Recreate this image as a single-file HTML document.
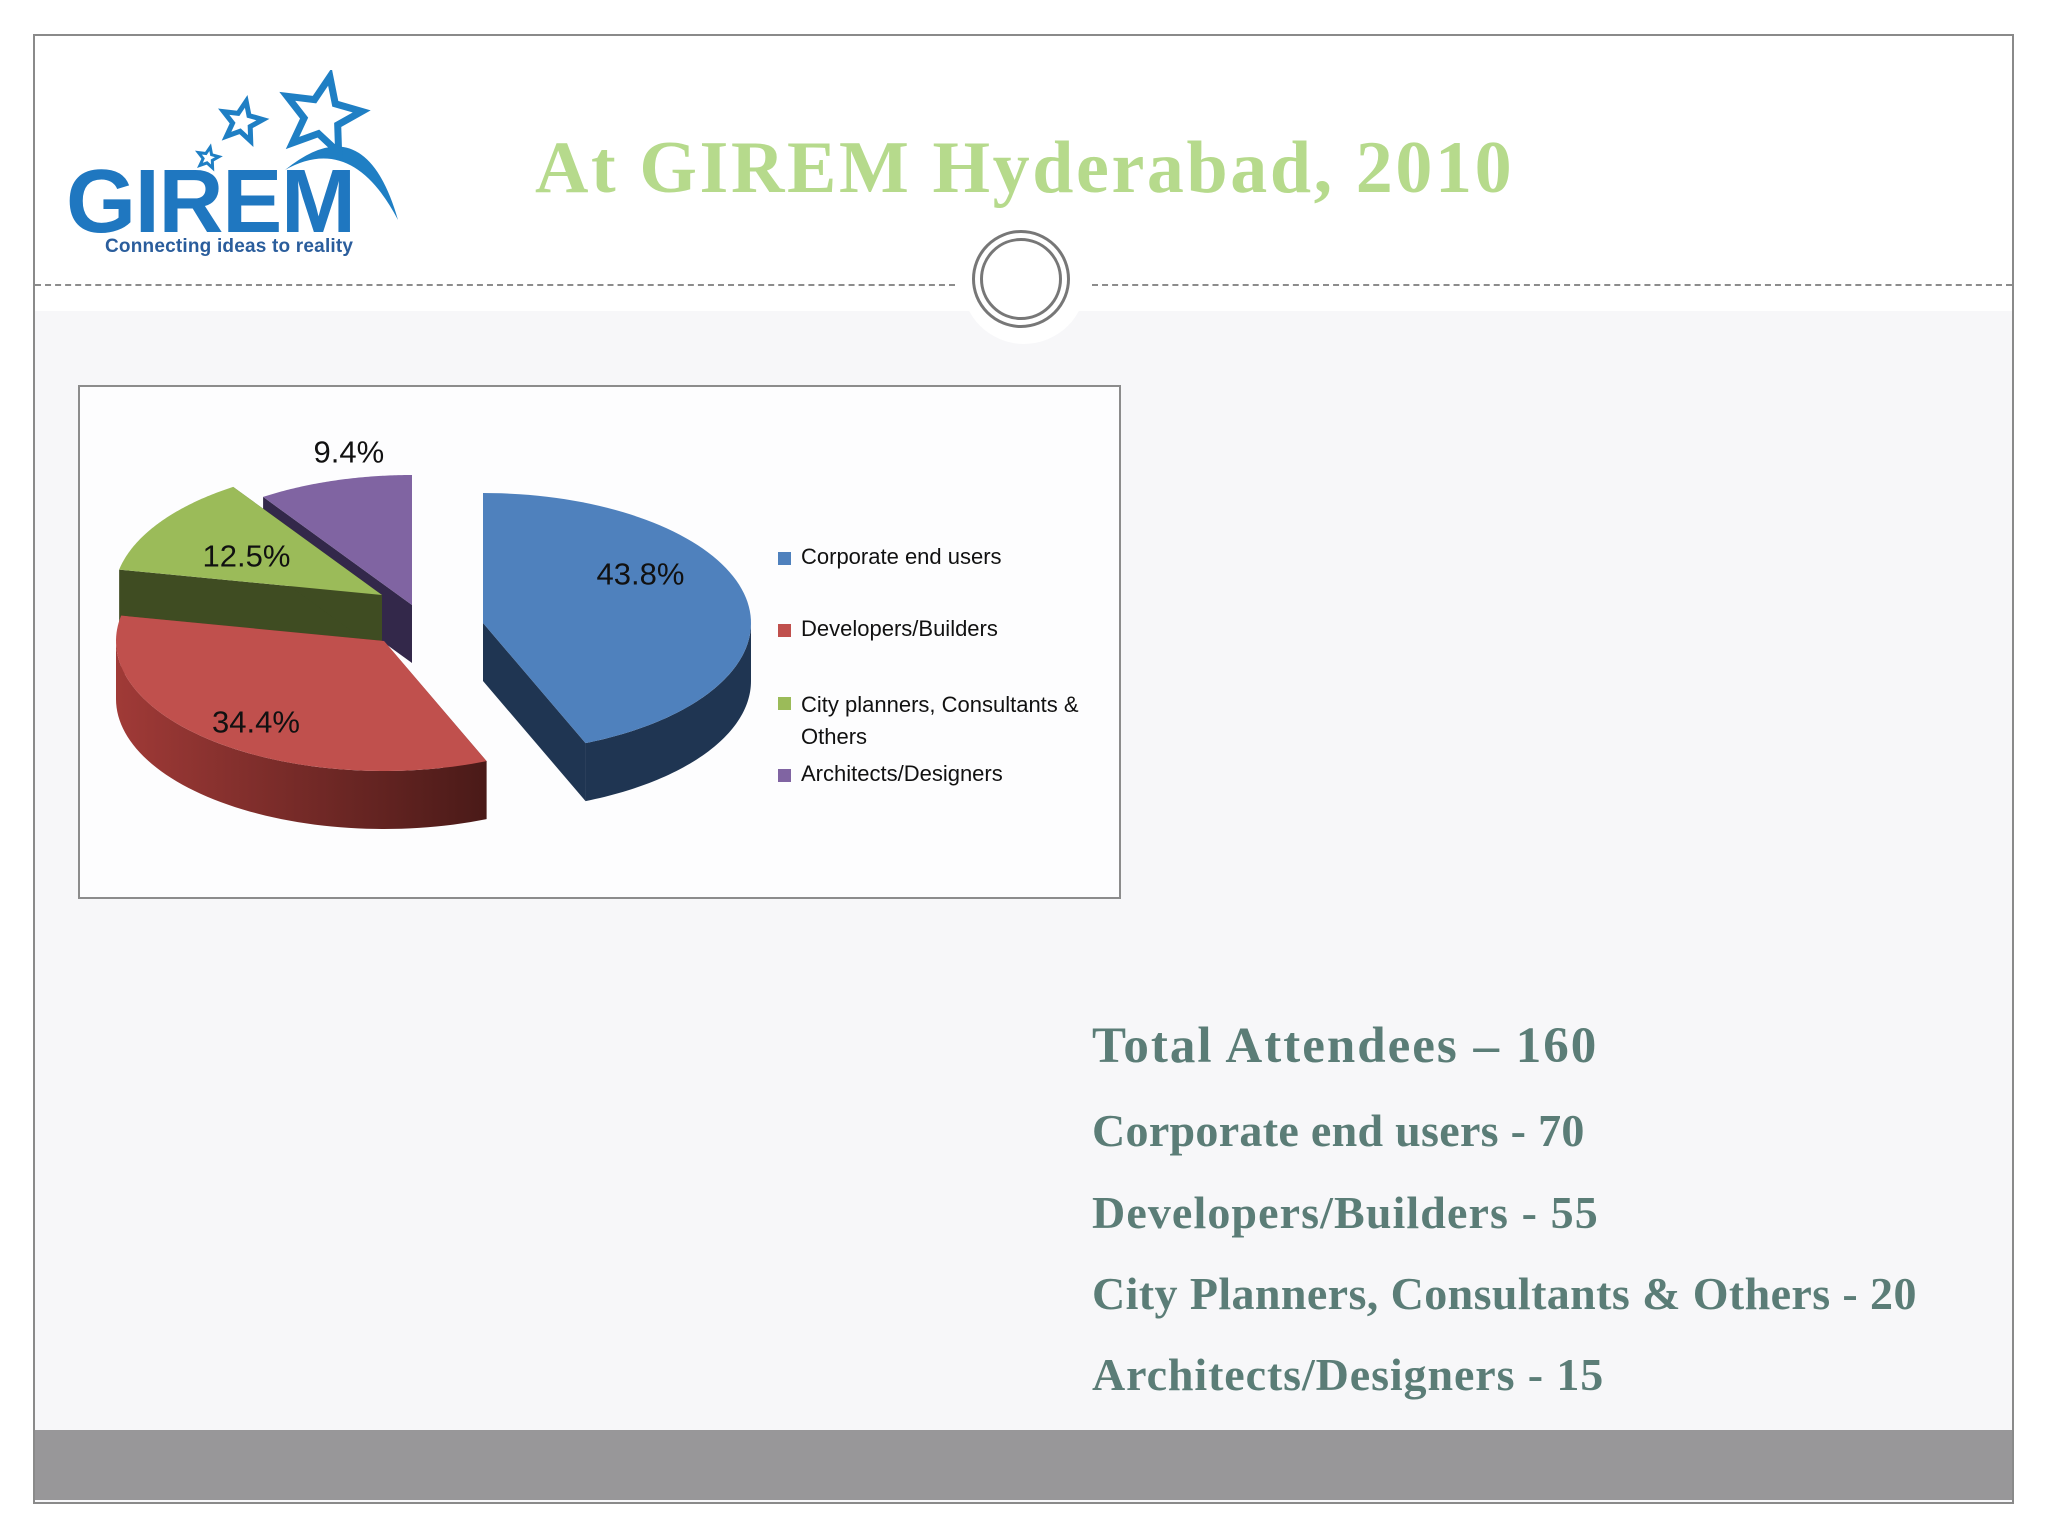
<!DOCTYPE html>
<html><head><meta charset="utf-8"><style>
body{margin:0;width:2048px;height:1536px;background:#fff;position:relative;overflow:hidden;font-family:"Liberation Sans",sans-serif}
.abs{position:absolute}
.stat{position:absolute;left:1092px;font-family:"Liberation Serif",serif;font-weight:bold;color:#5b7d77;font-size:46px;white-space:nowrap;letter-spacing:0.6px}
.leg{position:absolute;font-size:22px;color:#111;white-space:nowrap}
.sq{position:absolute;width:13px;height:13px}
</style></head><body>
<div class="abs" style="left:33px;top:34px;width:1977px;height:1466px;border:2px solid #8a8a8a;background:#f7f7f9"></div>
<div class="abs" style="left:35px;top:36px;width:1977px;height:275px;background:#fff"></div>
<div class="abs" style="left:35px;top:1430px;width:1977px;height:70px;background:#989799"></div>
<div class="abs" style="left:35px;top:284px;width:920px;border-top:2px dashed #8c8c8c"></div>
<div class="abs" style="left:1092px;top:284px;width:920px;border-top:2px dashed #8c8c8c"></div>
<div class="abs" style="left:962px;top:220px;width:124px;height:124px;border-radius:50%;background:#fff"></div>
<div class="abs" style="left:972px;top:230px;width:98px;height:98px;border-radius:50%;border:3px solid #777;box-sizing:border-box"></div>
<div class="abs" style="left:980px;top:238px;width:82px;height:82px;border-radius:50%;border:3px solid #777;box-sizing:border-box"></div>

<svg class="abs" id="logo" style="left:60px;top:70px" width="360" height="200" viewBox="0 0 360 200">
<path d="M225 100 Q305 35 338 150 Q292 62 225 100Z" fill="#1f7fc4"/>
<text x="6" y="162" font-family="Liberation Sans" font-weight="bold" font-size="90" fill="#1f77c0" textLength="290">GIREM</text>
<text x="45" y="182" font-family="Liberation Sans" font-weight="bold" font-size="19" fill="#2a5d9c" textLength="248">Connecting ideas to reality</text>
</svg>
<script>
(function(){const s=document.getElementById('logo');
function star(cx,cy,r,w,name){let p=[];for(let k=0;k<10;k++){const a=-Math.PI/2+k*Math.PI/5+0.2;const rr=k%2?r*0.45:r;p.push((cx+rr*Math.cos(a)).toFixed(1)+','+(cy+rr*Math.sin(a)).toFixed(1));}
const e=document.createElementNS('http://www.w3.org/2000/svg','polygon');e.setAttribute('points',p.join(' '));e.setAttribute('fill','#fff');e.setAttribute('stroke','#1f7fc4');e.setAttribute('stroke-width',w);


s.appendChild(e);}
star(262,46,40,7,'logo-star-large');star(182,52,21,5,'logo-star-medium');star(148,88,11,3,'logo-star-small');})();
</script>
<div class="abs" style="left:535px;top:126px;font-family:'Liberation Serif',serif;font-weight:bold;font-size:74px;letter-spacing:2.6px;color:#b6da8c;white-space:nowrap">At GIREM Hyderabad, 2010</div>

<div class="abs" style="left:78px;top:385px;width:1039px;height:510px;border:2px solid #8c8c8c;background:#fdfdfe"></div>
<svg class="abs" id="pie" style="left:0;top:0" width="1200" height="920">
<defs><linearGradient id="redg" x1="0" x2="1"><stop offset="0" stop-color="#a03a37"/><stop offset="1" stop-color="#4a1a18"/></linearGradient></defs>
</svg>

<div class="sq" style="left:778px;top:552px;background:#4f81bd"></div>
<div class="leg" style="left:801px;top:544px">Corporate end users</div>
<div class="sq" style="left:778px;top:624px;background:#c0504d"></div>
<div class="leg" style="left:801px;top:616px">Developers/Builders</div>
<div class="sq" style="left:778px;top:697px;background:#9bbb59"></div>
<div class="leg" style="left:801px;top:689px;line-height:32px">City planners, Consultants &amp;<br>Others</div>
<div class="sq" style="left:778px;top:769px;background:#8064a2"></div>
<div class="leg" style="left:801px;top:761px">Architects/Designers</div>

<div class="stat" style="top:1017px;font-size:51px;letter-spacing:2px">Total Attendees – 160</div>
<div class="stat" style="top:1104px;letter-spacing:0.3px">Corporate end users - 70</div>
<div class="stat" style="top:1186px;letter-spacing:1.1px">Developers/Builders - 55</div>
<div class="stat" style="top:1267px;letter-spacing:0.4px">City Planners, Consultants &amp; Others - 20</div>
<div class="stat" style="top:1348px;letter-spacing:0.9px">Architects/Designers - 15</div>

<script>
const categories=["Corporate end users","Developers/Builders","City planners, Consultants & Others","Architects/Designers"];
const counts=[70,55,20,15];
const topColors=["#4f81bd","#c0504d","#9bbb59","#8064a2"];
const sideColors=["#1f3552","url(#redg)","#3f4c22","#33284a"];
const explodeDx=[107,8,6,36];
const explodeDy=[-10,8,-38,-28];
const labelR=[0.58,0.6,0.55,1.3];
const labelDx=[5,-26,-13,38];
const labelDy=[-35,20,0,8];
const svg=document.getElementById('pie');
const NS='http://www.w3.org/2000/svg';
const CX=376,CY=633,RX=268,RY=130,D=58;
const total=counts.reduce((a,b)=>a+b,0);
function pt(cx,cy,a,dz){return [cx+RX*Math.sin(a),cy-RY*Math.cos(a)+dz];}
function poly(pts,fill,name){const p=document.createElementNS(NS,'polygon');p.setAttribute('points',pts.map(q=>q.join(',')).join(' '));p.setAttribute('fill',fill);


svg.appendChild(p);}
const slices=[];let acc=0;
counts.forEach((c,i)=>{const a1=acc/total*2*Math.PI;acc+=c;const a2=acc/total*2*Math.PI;slices.push({i,a1,a2});});
const order=[3,2,0,1];
order.forEach(i=>{const s=slices[i];const cx=CX+explodeDx[i],cy=CY+explodeDy[i];
 [s.a1,s.a2].forEach(a=>{const e=pt(cx,cy,a,0);poly([[cx,cy],e,[e[0],e[1]+D],[cx,cy+D]],sideColors[i],'slice-side-'+i);});
 const lo=Math.max(s.a1,Math.PI/2),hi=Math.min(s.a2,Math.PI*1.5);
 if(hi>lo){const top=[],bot=[];for(let k=0;k<=60;k++){const a=lo+(hi-lo)*k/60;top.push(pt(cx,cy,a,0));bot.push(pt(cx,cy,a,D));}
  poly(top.concat(bot.reverse()),sideColors[i],'slice-wall-'+i);}
 const pts=[[cx,cy]];for(let k=0;k<=80;k++){pts.push(pt(cx,cy,s.a1+(s.a2-s.a1)*k/80,0));}
 poly(pts,topColors[i],'slice-'+i);
});
slices.forEach(s=>{const i=s.i;const cx=CX+explodeDx[i],cy=CY+explodeDy[i];const m=(s.a1+s.a2)/2;
 const t=document.createElementNS(NS,'text');
 t.setAttribute('x',cx+RX*labelR[i]*Math.sin(m)+labelDx[i]);t.setAttribute('y',cy-RY*labelR[i]*Math.cos(m)+11+labelDy[i]);
 t.setAttribute('text-anchor','middle');t.setAttribute('font-size','31');t.setAttribute('font-family','Liberation Sans');t.setAttribute('fill','#111');
 t.textContent=(counts[i]/total*100).toFixed(1)+'%';
 
 
 svg.appendChild(t);});
</script>
</body></html>
